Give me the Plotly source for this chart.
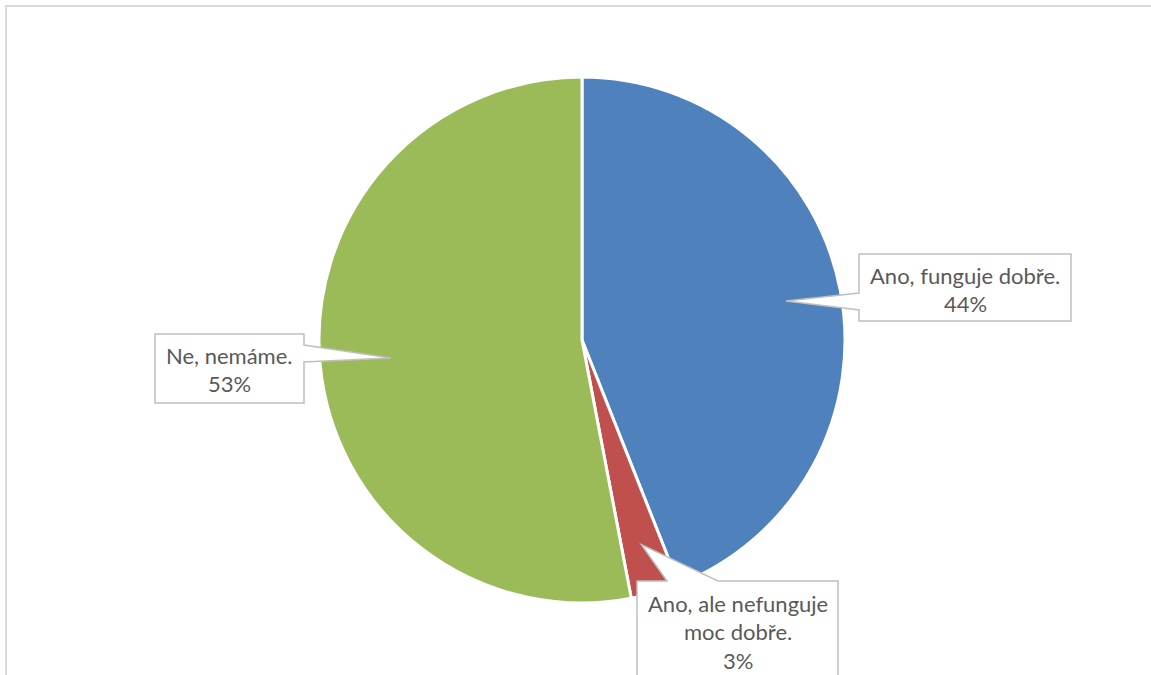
import math
import plotly.graph_objects as go

# ---- data ----
labels = ["Ano, funguje dobře.", "Ano, ale nefunguje moc dobře.", "Ne, nemáme."]
values = [44, 3, 53]
colors = ["#4F81BD", "#C0504D", "#9BBB59"]
# callout text lines (label split into lines + percentage)
callout_lines = [
    ["Ano, funguje dobře."],
    ["Ano, ale nefunguje", "moc dobře."],
    ["Ne, nemáme."],
]

W, H = 1151, 675
CX, CY, R = 582, 340, 263


def px(x, y):
    return x / W, 1 - y / H


def path_from(points):
    parts = []
    for i, (x, y) in enumerate(points):
        fx, fy = px(x, y)
        parts.append(("M" if i == 0 else "L") + f"{fx:.5f},{fy:.5f}")
    return " ".join(parts) + " Z"


fig = go.Figure()
fig.add_trace(go.Pie(
    labels=labels,
    values=values,
    sort=False,
    direction="clockwise",
    rotation=0,
    marker=dict(colors=colors, line=dict(color="white", width=3)),
    textinfo="none",
    hoverinfo="label+percent",
    showlegend=False,
    domain=dict(x=[(CX - R) / W, (CX + R) / W], y=[1 - (CY + R) / H, 1 - (CY - R) / H]),
))

# pointer tips computed from slice mid-angles
total = sum(values)
tip_factor = [0.79, 0.81, 0.73]
tips = []
cum = 0
for v, f in zip(values, tip_factor):
    mid = (cum + v / 2) / total * 2 * math.pi
    cum += v
    tips.append((CX + f * R * math.sin(mid), CY - f * R * math.cos(mid)))

# callout box layout (pixels): (x0, y0, x1, y1)
boxes = [(859, 254, 1071, 321), (637, 581, 838, 740), (155, 334, 304, 403)]

shapes = []
# frame
shapes.append(dict(type="rect", xref="paper", yref="paper",
                   x0=6 / W, y0=1 - 6 / H, x1=1180 / W, y1=-40 / H,
                   line=dict(color="#D9D9D9", width=2), fillcolor="rgba(0,0,0,0)", layer="below"))

# blue callout (pointer on left edge)
x0, y0, x1, y1 = boxes[0]
t = tips[0]
shapes.append(dict(type="path", xref="paper", yref="paper",
                   path=path_from([(x0, y0), (x1, y0), (x1, y1), (x0, y1), (x0, 310), t, (x0, 293)]),
                   line=dict(color="#BFBFBF", width=1.5), fillcolor="white"))
# red callout (pointer on top edge)
x0, y0, x1, y1 = boxes[1]
t = tips[1]
shapes.append(dict(type="path", xref="paper", yref="paper",
                   path=path_from([(x0, y0), (667, y0), t, (718, y0), (x1, y0), (x1, y1), (x0, y1)]),
                   line=dict(color="#BFBFBF", width=1.5), fillcolor="white"))
# green callout (pointer on right edge)
x0, y0, x1, y1 = boxes[2]
t = tips[2]
shapes.append(dict(type="path", xref="paper", yref="paper",
                   path=path_from([(x0, y0), (x1, y0), (x1, 345), t, (x1, 362), (x1, y1), (x0, y1)]),
                   line=dict(color="#BFBFBF", width=1.5), fillcolor="white"))

# text
first_line_y = [275, 603, 355]
spacing = 28.5
annotations = []
for i, (lines, v) in enumerate(zip(callout_lines, values)):
    pct = round(v / total * 100)
    all_lines = lines + [f"{pct}%"]
    bx0, _, bx1, _ = boxes[i]
    cx = (bx0 + bx1) / 2
    for j, line in enumerate(all_lines):
        fx, fy = px(cx, first_line_y[i] + j * spacing)
        annotations.append(dict(x=fx, y=fy, xref="paper", yref="paper", text=line,
                                showarrow=False, xanchor="center", yanchor="middle",
                                font=dict(family="Lato", size=22, color="#595959")))

fig.update_layout(
    width=W, height=H,
    margin=dict(l=0, r=0, t=0, b=0),
    paper_bgcolor="white",
    plot_bgcolor="white",
    shapes=shapes,
    annotations=annotations,
)

fig.write_html("out.html", config={"displayModeBar": False},
               post_script="document.body.style.margin='0';document.body.style.overflow='hidden';")
